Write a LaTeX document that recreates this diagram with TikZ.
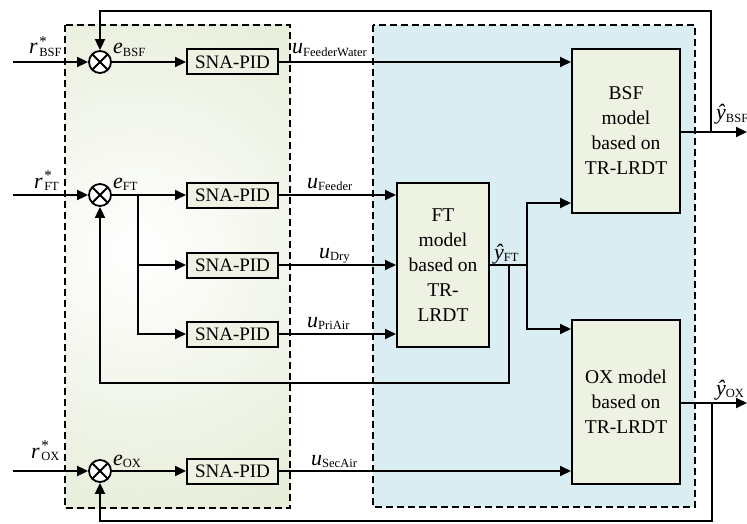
\documentclass[tikz,border=0pt]{standalone}
\usepackage{fontspec}
\setmainfont{Liberation Serif}
\usetikzlibrary{arrows.meta,calc}

\definecolor{ctrlfill}{RGB}{218,228,198}
\definecolor{plantfill}{RGB}{218,237,243}
\definecolor{blockfill}{RGB}{238,242,226}

% italic symbol with a subscript; reference symbol with a star stacked over the subscript
\newcommand{\subtxt}[1]{{\fontsize{12.5}{12.5}\selectfont #1}}
\newcommand{\sig}[2]{{\fontsize{22}{22}\selectfont\itshape #1}\raisebox{-0.6ex}{\subtxt{#2}}}
\newcommand{\refsig}[1]{{\fontsize{22}{22}\selectfont\itshape r}\kern1.5pt\raisebox{-0.6ex}{%
  \begin{tabular}[b]{@{}l@{}}{\fontsize{15}{9}\selectfont *}\\[-2pt]\subtxt{#1}\end{tabular}}}

\tikzset{
  wire/.style={line width=1.8pt},
  arr/.style={wire,-{Triangle[length=11pt,width=10pt]}},
  pidbox/.style={draw,line width=2pt,fill=blockfill,minimum width=91pt,minimum height=25pt,
    inner sep=0pt,font=\fontsize{19}{19}\selectfont},
  modelbox/.style={draw,line width=2pt,fill=blockfill,minimum width=108pt,minimum height=164pt,
    inner sep=0pt,align=center,font=\fontsize{19.5}{25}\selectfont},
  sumjn/.style={draw,circle,line width=1.8pt,fill=white,minimum size=22pt,inner sep=0pt,
    path picture={\draw[line width=1.8pt]
      (path picture bounding box.north west) -- (path picture bounding box.south east)
      (path picture bounding box.north east) -- (path picture bounding box.south west);}},
  group/.style={line width=1.8pt,dash pattern=on 7pt off 4pt},
  lbl/.style={inner sep=0pt,anchor=base west}
}

\begin{document}
\begin{tikzpicture}[x=1pt,y=-1pt]
\useasboundingbox (0,0) rectangle (747,524);

% controller area: shaded panel
\begin{scope}
  \clip (65,25) rectangle (290,508);
  \fill[ctrlfill] (65,25) rectangle (290,508);
  \shade[inner color=white,outer color=ctrlfill] (140,250) circle (420);
\end{scope}
\draw[group] (65,25) rectangle (290,508);

% plant area
\fill[plantfill] (373,25) rectangle (695,507);
\draw[group] (373,25) rectangle (695,507);

% summing junctions
\node[sumjn] (sBSF) at (100,62) {};
\node[sumjn] (sFT) at (100,195) {};
\node[sumjn] (sOX) at (100,471) {};

% controllers
\node[pidbox] (p1) at (232.5,62) {SNA-PID};
\node[pidbox] (p2) at (232.5,195) {SNA-PID};
\node[pidbox] (p3) at (232.5,265) {SNA-PID};
\node[pidbox] (p4) at (232.5,334) {SNA-PID};
\node[pidbox] (p5) at (232.5,471) {SNA-PID};

% models
\node[modelbox,minimum width=92pt] (ft) at (443,265) {FT\\model\\based on\\TR-\\LRDT};
\node[modelbox] (bsf) at (626,131) {BSF\\model\\based on\\TR-LRDT};
\node[modelbox] (ox) at (626,402) {OX model\\based on\\TR-LRDT};

% free ends and routing points
\coordinate (inBSF) at (13,62);
\coordinate (inFT) at (13,195);
\coordinate (inOX) at (13,471);
\coordinate (brFT) at (138,195);
\coordinate (ysplit) at (527,265);
\coordinate (fbFT) at (509,265);
\coordinate (fbFTlow) at (509,383);
\coordinate (outBSF) at (747,132);
\coordinate (fbBSF) at (711,132);
\coordinate (fbBSFtop) at (711,11);
\coordinate (outOX) at (747,403);
\coordinate (fbOX) at (712,403);
\coordinate (fbOXlow) at (712,521);

% references into junctions
\draw[arr] (inBSF) -- (sBSF);
\draw[arr] (inFT) -- (sFT);
\draw[arr] (inOX) -- (sOX);

% errors into controllers
\draw[arr] (sBSF) -- (p1);
\draw[arr] (sFT) -- (p2);
\draw[arr] (brFT) |- (p3);
\draw[arr] (brFT) |- (p4);
\draw[arr] (sOX) -- (p5);

% control signals into models
\draw[arr] (p1.east) -- (p1.east -| bsf.west);
\draw[arr] (p2.east) -- (p2.east -| ft.west);
\draw[arr] (p3.east) -- (p3.east -| ft.west);
\draw[arr] (p4.east) -- (p4.east -| ft.west);
\draw[arr] (p5.east) -- (p5.east -| ox.west);

% FT model output
\draw[wire] (ft.east) -- (ysplit);
\draw[arr] (ysplit) |- ($(bsf.west)+(0,72)$);
\draw[arr] (ysplit) |- ($(ox.west)+(0,-73)$);
\draw[arr] (fbFT) -- (fbFTlow) -| (sFT.south);

% BSF and OX outputs with feedback
\draw[arr] (bsf.east |- outBSF) -- (outBSF);
\draw[arr] (fbBSF) -- (fbBSFtop) -| (sBSF.north);
\draw[arr] (ox.east |- outOX) -- (outOX);
\draw[arr] (fbOX) -- (fbOXlow) -| (sOX.south);

% signal labels
\node[lbl] (lrBSF) at (29,54) {\refsig{BSF}};
\node[lbl] (lrFT) at (34,188) {\refsig{FT}};
\node[lbl] (lrOX) at (31,458) {\refsig{OX}};
\node[lbl] (leBSF) at (113,54) {\sig{e}{BSF}};
\node[lbl] (leFT) at (113,188) {\sig{e}{FT}};
\node[lbl] (leOX) at (113,465) {\sig{e}{OX}};
\node[lbl] (luFW) at (292,54) {\sig{u}{FeederWater}};
\node[lbl] (luF) at (307,188) {\sig{u}{Feeder}};
\node[lbl] (luD) at (319,258) {\sig{u}{Dry}};
\node[lbl] (luP) at (307,327) {\sig{u}{PriAir}};
\node[lbl] (luS) at (311,465) {\sig{u}{SecAir}};
\node[lbl] (lyFT) at (494,259) {\sig{ŷ}{FT}};
\node[lbl] (lyBSF) at (716,120) {\sig{ŷ}{BSF}};
\node[lbl] (lyOX) at (716,395) {\sig{ŷ}{OX}};
\end{tikzpicture}
\end{document}
